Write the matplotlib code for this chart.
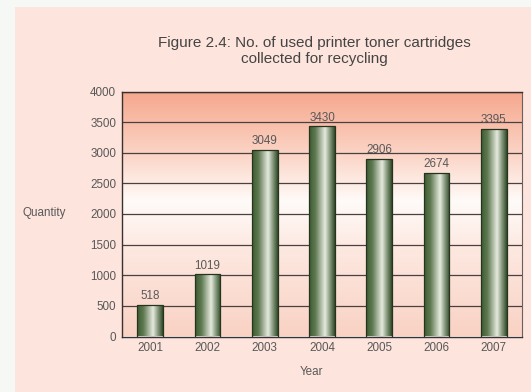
import numpy as np
import matplotlib.pyplot as plt
from matplotlib.colors import LinearSegmentedColormap
from matplotlib.patches import Rectangle

plt.rcParams['font.family'] = ['Liberation Sans', 'DejaVu Sans']

# data
years = ['2001', '2002', '2003', '2004', '2005', '2006', '2007']
quantities = [518, 1019, 3049, 3430, 2906, 2674, 3395]
y_ticks = [0, 500, 1000, 1500, 2000, 2500, 3000, 3500, 4000]

title = 'Figure 2.4: No. of used printer toner cartridges\ncollected for recycling'
text_col = '#595959'

fig = plt.figure(figsize=(5.31, 3.92), dpi=100)
fig.patch.set_facecolor('#f6f8f6')
# pink panel behind the chart
fig.patches.append(Rectangle((15 / 531, 0), 1 - 15 / 531, 385 / 392,
                             transform=fig.transFigure, facecolor='#fde4dc',
                             edgecolor='none', zorder=-10))

ax = fig.add_axes([121.7 / 531, 1 - 336.5 / 392, (522.3 - 121.7) / 531, (336.5 - 91.5) / 392])
ax.set_zorder(1)
ax.set_xlim(-0.5, len(years) - 0.5)
ax.set_ylim(0, 4000)

# background gradient: salmon top, white in the middle, pink at the bottom
bg_cmap = LinearSegmentedColormap.from_list('bg', [
    (0.0, '#f9d2c4'), (0.35, '#fde8e0'), (0.55, '#fffbf9'),
    (0.75, '#fbd3c4'), (1.0, '#f6a78d')])
grad = np.linspace(0, 1, 256).reshape(-1, 1)
ax.imshow(grad, aspect='auto', cmap=bg_cmap, origin='lower',
          extent=[-0.5, len(years) - 0.5, 0, 4000], zorder=0)

for t in y_ticks[1:]:
    ax.axhline(t, color='#4a4040', lw=0.9, zorder=1)

# cylinder shading for the bars
bar_cmap = LinearSegmentedColormap.from_list('bar', [
    (0.0, '#3b5a2f'), (0.25, '#5f7a52'), (0.62, '#e6eadf'),
    (0.8, '#8a9c80'), (1.0, '#2f4a27')])
hgrad = np.linspace(0, 1, 256).reshape(1, -1)
bars = ax.bar(range(len(years)), quantities, width=0.45, facecolor='none',
              edgecolor='#26331f', lw=0.9, zorder=3)
for rect, q in zip(bars, quantities):
    x0 = rect.get_x()
    w = rect.get_width()
    im = ax.imshow(hgrad, aspect='auto', cmap=bar_cmap,
                   extent=[x0, x0 + w, 0, q], zorder=2)
    im.set_clip_path(rect)
    ax.text(x0 + w / 2, q + 40, str(q), ha='center', va='bottom',
            fontsize=8.4, color=text_col, zorder=4)

ax.set_xlim(-0.5, len(years) - 0.5)
ax.set_ylim(0, 4000)
ax.set_xticks(range(len(years)))
ax.set_xticklabels(years)
ax.set_yticks(y_ticks)
ax.tick_params(length=0, labelsize=8.4, labelcolor=text_col, pad=4)
for side in ['left', 'bottom', 'top']:
    ax.spines[side].set_color('#3a3030')
    ax.spines[side].set_linewidth(1.0)
ax.spines['right'].set_color('#6a6060')
ax.spines['right'].set_linewidth(0.8)

fig.text(314 / 531, 1 - 51 / 392, title, ha='center', va='center',
         fontsize=11, color='#444444', linespacing=1.25)
fig.text(44 / 531, 1 - 213 / 392, 'Quantity', ha='center', va='center',
         fontsize=8.4, color=text_col)
fig.text(311 / 531, 1 - 372 / 392, 'Year', ha='center', va='center',
         fontsize=8.4, color=text_col)

fig.savefig('out.png', dpi=100, facecolor=fig.get_facecolor())
